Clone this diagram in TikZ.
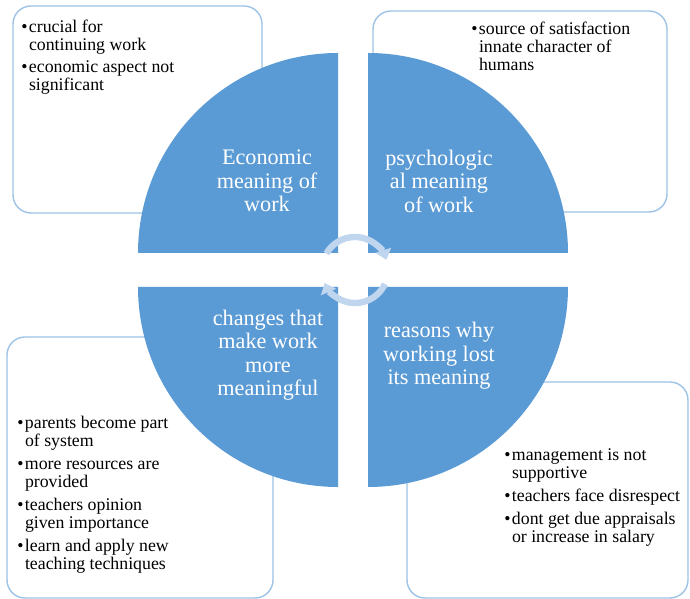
\documentclass[tikz,border=0pt]{standalone}
\usepackage{fontspec}
\setmainfont{Liberation Serif}
\usetikzlibrary{arrows.meta}
\definecolor{quadblue}{RGB}{91,155,213}
\definecolor{edgeblue}{RGB}{157,195,230}
\definecolor{ringblue}{RGB}{192,213,238}
\newcommand{\bitem}[1]{\makebox[3.8pt][l]{\textbullet}#1}
\newcommand{\bcont}{\hspace*{3.8pt}}
\tikzset{
  notebox/.style={draw=edgeblue, line width=0.7pt, fill=white, rounded corners=9pt},
  quad/.style={fill=quadblue},
  quadtext/.style={text=white, align=center, inner sep=0pt,
                   font=\fontsize{11.1}{11.75}\selectfont},
  notetext/.style={anchor=north west, align=left, inner sep=0pt,
                   font=\fontsize{8.9}{9}\selectfont},
  cyc/.style={draw=ringblue, line width=3.2pt, -{Triangle[width=8pt,length=5pt]}}
}
\begin{document}
\begin{tikzpicture}[x=0.5pt,y=0.5pt]
\useasboundingbox (0,0) rectangle (690,599);

% boxes behind the quarters
\draw[notebox] (13,386) rectangle (262,593);
\draw[notebox] (373,387) rectangle (667,588);
\draw[notebox] (7,1) rectangle (273,262);
\draw[notebox] (407,1) rectangle (688,217);

% the four quarters
\fill[quad] (338,346) -- (138,346) arc[start angle=180,end angle=90,radius=200] -- cycle;
\fill[quad] (368,346) -- (568,346) arc[start angle=0,end angle=90,radius=200] -- cycle;
\fill[quad] (338,312) -- (138,312) arc[start angle=180,end angle=270,radius=200] -- cycle;
\fill[quad] (368,312) -- (568,312) arc[start angle=0,end angle=-90,radius=200] -- cycle;

% cycle arrows in the middle
\coordinate (hub) at (355,329);
\draw[cyc] ([shift={(150:33)}]hub) arc[start angle=150,end angle=18,radius=33];
\draw[cyc] ([shift={(-25:33)}]hub) arc[start angle=-25,end angle=-157,radius=33];

\node[quadtext] (econ) at (267,418) {Economic\\meaning of\\work};
\node[quadtext] (psych) at (439,418) {psychologic\\al meaning\\of work};
\node[quadtext] (change) at (268,244) {changes that\\make work\\more\\meaningful};
\node[quadtext] (reason) at (439,243) {reasons why\\working lost\\its meaning};

\node[notetext] (econnote) at (21,579) {\bitem{crucial for}\\\bcont continuing work\\[2pt]
  \bitem{economic aspect not}\\\bcont significant};
\node[notetext] (psychnote) at (471,577) {\bitem{source of satisfaction}\\\bcont innate character of\\\bcont humans};
\node[notetext] (changenote) at (17,183) {\bitem{parents become part}\\\bcont of system\\[2.5pt]
  \bitem{more resources are}\\\bcont provided\\[2.5pt]
  \bitem{teachers opinion}\\\bcont given importance\\[2.5pt]
  \bitem{learn and apply new}\\\bcont teaching techniques};
\node[notetext] (reasonnote) at (504,151) {\bitem{management is not}\\\bcont supportive\\[2.5pt]
  \bitem{teachers face disrespect}\\[2.5pt]
  \bitem{dont get due appraisals}\\\bcont or increase in salary};
\end{tikzpicture}
\end{document}
